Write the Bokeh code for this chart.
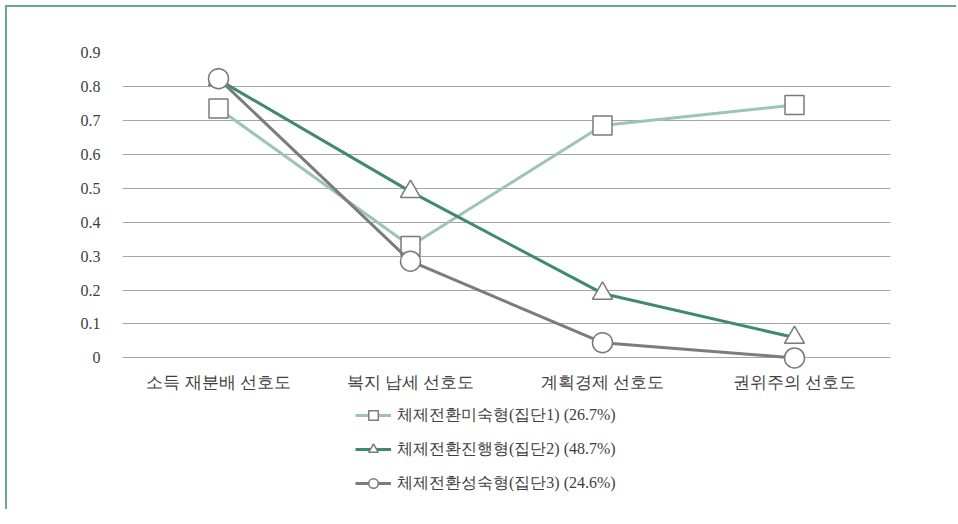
from bokeh.plotting import figure
from bokeh.layouts import column
from bokeh.models import Range1d, FactorRange, Legend, LegendItem, FixedTicker
from bokeh.embed import file_html
from bokeh.resources import INLINE

categories = ["소득 재분배 선호도", "복지 납세 선호도", "계획경제 선호도", "권위주의 선호도"]
series_names = ["체제전환미숙형(집단1) (26.7%)", "체제전환진행형(집단2) (48.7%)", "체제전환성숙형(집단3) (24.6%)"]
group1 = [0.735, 0.33, 0.685, 0.745]
group2 = [0.82, 0.49, 0.19, 0.06]
group3 = [0.823, 0.285, 0.045, 0.0]
y_ticks = [0, 0.1, 0.2, 0.3, 0.4, 0.5, 0.6, 0.7, 0.8, 0.9]

colors = ["#9cc5b3", "#3f8a6c", "#7b7b80"]
markers = ["square", "triangle", "circle"]
marker_sizes = [19, 20, 20]
FONT = "Liberation Serif"
TEXT = "#404040"

p = figure(width=949, height=395, frame_width=768, frame_height=319,
           x_range=FactorRange(*categories, range_padding=0),
           y_range=Range1d(-0.04, 0.9), output_backend="svg", toolbar_location=None,
           min_border_left=115, min_border_top=45, min_border_right=66, min_border_bottom=5)
p.outline_line_color = None
p.xgrid.grid_line_color = None
p.ygrid.grid_line_color = "#a6a6a6"
p.ygrid.grid_line_width = 1
p.yaxis.ticker = FixedTicker(ticks=y_ticks)
p.yaxis.major_label_overrides = {0: "0"}
for ax in (p.xaxis, p.yaxis):
    ax.axis_line_color = None
    ax.major_tick_line_color = None
    ax.minor_tick_line_color = None
    ax.major_label_text_font = FONT
    ax.major_label_text_color = TEXT
    ax.major_label_text_font_size = "16px"
p.xaxis.major_label_text_font_size = "17px"
p.yaxis.major_label_standoff = 16
p.xaxis.major_label_standoff = -5

# legend lives in its own strip below the chart
q = figure(width=949, height=115, x_range=Range1d(0, 1), y_range=Range1d(0, 1),
           output_backend="svg", toolbar_location=None,
           x_axis_location=None, y_axis_location=None,
           min_border_left=0, min_border_right=0, min_border_top=0, min_border_bottom=0)
q.outline_line_color = None
q.grid.grid_line_color = None

items = []
for name, vals, col, mk, ms in zip(series_names, [group1, group2, group3], colors, markers, marker_sizes):
    p.line(categories, vals, line_color=col, line_width=3)
    p.scatter(categories, vals, marker=mk, size=ms, fill_color="white",
              line_color="#7a7a7a", line_width=1.5)
    # legend-only proxies, kept outside the visible range of the strip
    l1 = q.line(x=[-5], y=[-5], line_color=col, line_width=3)
    l2 = q.scatter(x=[-5], y=[-5], marker=mk, size=ms, fill_color="white",
                   line_color="#7a7a7a", line_width=1.5)
    items.append(LegendItem(label=name, renderers=[l1, l2]))

legend = Legend(items=items, location=(233, 14), orientation="vertical",
                glyph_width=36, glyph_height=24, label_height=24, spacing=10,
                padding=0, margin=0, label_standoff=6, border_line_color=None,
                background_fill_alpha=0, label_text_font=FONT,
                label_text_font_size="16px", label_text_color=TEXT)
q.add_layout(legend, "center")

layout = column(p, q, spacing=0)
layout.styles = {"border-left": "2px solid #6aa88e", "border-top": "2px solid #6aa88e",
                 "margin-left": "5px", "margin-top": "5px"}

open("out.html", "w").write(file_html(layout, INLINE))
